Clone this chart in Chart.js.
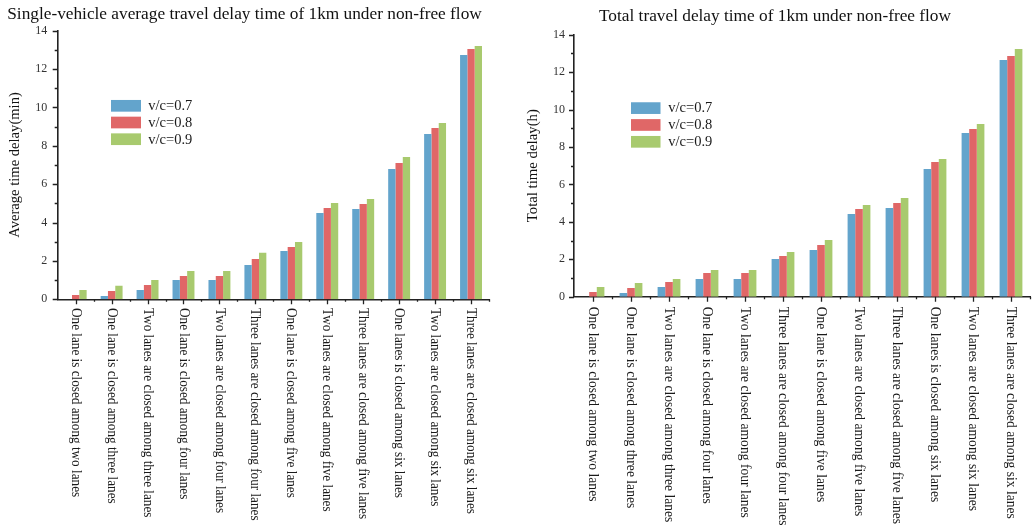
<!DOCTYPE html>
<html>
<head>
<meta charset="utf-8">
<script src="https://cdn.jsdelivr.net/npm/chart.js@4.4.1/dist/chart.umd.min.js"></script>
<style>
  html, body { margin: 0; padding: 0; background: #fff; width: 1034px; height: 529px; overflow: hidden; }
  canvas { position: absolute; top: 0; }
  #avgChart { left: 0; }
  #totalChart { left: 520px; }
</style>
</head>
<body>
<canvas id="avgChart" width="534" height="529"></canvas>
<canvas id="totalChart" width="552" height="529"></canvas>
<script>
// Closure scenarios (x categories)
const categories = [
  'One lane is closed among two lanes',
  'One lane is closed among three lanes',
  'Two lanes are closed among three lanes',
  'One lane is closed among four lanes',
  'Two lanes are closed among four lanes',
  'Three lanes are closed among four lanes',
  'One lane is closed among five lanes',
  'Two lanes are closed among five lanes',
  'Three lanes are closed among five lanes',
  'One lanes is closed among six lanes',
  'Two lanes are closed among six lanes',
  'Three lanes are closed among six lanes'
];

const seriesLabels = ['v/c=0.7', 'v/c=0.8', 'v/c=0.9'];
const seriesColors = ['#63a4cc', '#e06767', '#a8ca6e'];

// Single-vehicle average delay (min)
const avgDelay07 = [0, 0.17, 0.49, 1.0, 1.0, 1.79, 2.52, 4.5, 4.71, 6.79, 8.62, 12.73];
const avgDelay08 = [0.23, 0.43, 0.75, 1.22, 1.22, 2.1, 2.73, 4.76, 4.97, 7.1, 8.93, 13.05];
const avgDelay09 = [0.49, 0.7, 1.01, 1.48, 1.48, 2.42, 2.99, 5.02, 5.23, 7.42, 9.19, 13.2];

// Total delay (h)
const totalDelay07 = [0, 0.2, 0.52, 0.95, 0.95, 2.02, 2.49, 4.42, 4.74, 6.82, 8.75, 12.65];
const totalDelay08 = [0.25, 0.46, 0.79, 1.27, 1.27, 2.18, 2.76, 4.68, 5.0, 7.2, 8.96, 12.86];
const totalDelay09 = [0.52, 0.73, 0.95, 1.43, 1.43, 2.39, 3.03, 4.9, 5.27, 7.36, 9.23, 13.23];

// Value axis: 0..14, labelled every 2, minor marks every 1
const yMin = 0;
const yMax = 14;
const yMajorStep = 2;

const SERIF = "'Liberation Serif', 'Times New Roman', serif";

// Tick marks: major/minor on both axes, drawn outward
const axisMarks = {
  id: 'axisMarks',
  afterDraw(chart) {
    const { ctx, chartArea, scales: { x, y } } = chart;
    ctx.save();
    ctx.strokeStyle = '#222';
    ctx.lineWidth = 1.3;
    ctx.beginPath();
    for (let v = yMin; v <= yMax; v++) {
      const py = Math.round(y.getPixelForValue(v)) + 0.5;
      const len = v % yMajorStep === 0 ? 5 : 3;
      ctx.moveTo(chartArea.left, py);
      ctx.lineTo(chartArea.left - len, py);
    }
    const n = x.ticks.length;
    for (let i = 0; i < n; i++) {
      const px = Math.round(x.getPixelForTick(i)) + 0.5;
      ctx.moveTo(px, chartArea.bottom);
      ctx.lineTo(px, chartArea.bottom + 5);
      const edge = i < n - 1 ? (x.getPixelForTick(i) + x.getPixelForTick(i + 1)) / 2 : chartArea.right;
      const ex = Math.round(edge) + 0.5;
      ctx.moveTo(ex, chartArea.bottom);
      ctx.lineTo(ex, chartArea.bottom + 2.5);
    }
    ctx.stroke();
    ctx.restore();
  }
};

// Category names written downward under each tick, in a narrow serif
const downLabels = {
  id: 'downLabels',
  afterDraw(chart, args, opts) {
    const { ctx, chartArea, scales: { x } } = chart;
    ctx.save();
    ctx.font = opts.size + 'px ' + SERIF;
    ctx.fillStyle = '#1a1a1a';
    ctx.textAlign = 'left';
    ctx.textBaseline = 'middle';
    chart.data.labels.forEach((label, i) => {
      ctx.save();
      ctx.translate(x.getPixelForTick(i) + opts.dx, chartArea.bottom + opts.gap);
      ctx.rotate(Math.PI / 2);
      ctx.scale(opts.squeeze, 1);
      ctx.fillText(label, 0, 0);
      ctx.restore();
    });
    ctx.restore();
  }
};

// Legend block placed inside the plot area
const innerLegend = {
  id: 'innerLegend',
  afterDraw(chart, args, opts) {
    const { ctx, chartArea } = chart;
    ctx.save();
    ctx.font = opts.size + 'px ' + SERIF;
    ctx.textAlign = 'left';
    ctx.textBaseline = 'middle';
    chart.data.datasets.forEach((ds, i) => {
      const bx = chartArea.left + opts.dx;
      const by = chartArea.top + opts.dy + i * opts.step;
      ctx.fillStyle = ds.backgroundColor;
      ctx.fillRect(bx, by, opts.boxW, opts.boxH);
      ctx.fillStyle = '#1a1a1a';
      ctx.fillText(ds.label, bx + opts.textGap, by + opts.boxH / 2 + 0.5);
    });
    ctx.restore();
  }
};

function makeChart(canvasId, series, cfg) {
  return new Chart(document.getElementById(canvasId), {
    type: 'bar',
    data: {
      labels: categories,
      datasets: series.map((values, i) => ({
        label: seriesLabels[i],
        data: values,
        backgroundColor: seriesColors[i],
        borderWidth: 0,
        categoryPercentage: cfg.groupShare,
        barPercentage: 1
      }))
    },
    options: {
      responsive: false,
      animation: false,
      devicePixelRatio: 1,
      layout: { padding: { left: 0, right: cfg.padRight, top: 0, bottom: cfg.padBottom } },
      plugins: {
        legend: { display: false },
        tooltip: { enabled: false },
        title: {
          display: true,
          text: cfg.title,
          color: '#111',
          font: { family: SERIF, size: 17.3, weight: 'normal' },
          padding: { top: cfg.titleTop, bottom: cfg.titleBottom }
        },
        downLabels: { size: cfg.labelSize, squeeze: cfg.labelSqueeze, gap: cfg.labelGap, dx: 0 },
        innerLegend: cfg.legend
      },
      scales: {
        x: {
          type: 'category',
          offset: true,
          grid: { display: false, drawTicks: false },
          border: { display: true, color: '#222', width: 1.6 },
          ticks: { display: false }
        },
        y: {
          min: yMin,
          max: yMax,
          grid: { display: false, drawTicks: false },
          border: { display: true, color: '#222', width: 1.6 },
          ticks: {
            stepSize: 1,
            padding: cfg.tickPad,
            color: '#333',
            font: { family: SERIF, size: 12 },
            callback: (v) => (v % yMajorStep === 0 ? String(v) : '')
          },
          title: {
            display: true,
            text: cfg.yTitle,
            color: '#111',
            font: { family: SERIF, size: cfg.yTitleSize },
            padding: { top: cfg.yTitlePad, bottom: 0 }
          },
          afterFit: (scale) => { scale.width = cfg.axisWidth; }
        }
      }
    },
    plugins: [axisMarks, downLabels, innerLegend]
  });
}

makeChart('avgChart', [avgDelay07, avgDelay08, avgDelay09], {
  title: 'Single-vehicle average travel delay time of 1km under non-free flow',
  yTitle: 'Average time delay(min)',
  yTitleSize: 14.6,
  yTitlePad: 6.3,
  titleTop: 3.6,
  titleBottom: 6.3,
  padRight: 45,
  padBottom: 229.7,
  axisWidth: 57.7,
  tickPad: 10.5,
  groupShare: 0.61,
  labelSize: 14.8,
  labelSqueeze: 0.892,
  labelGap: 8.7,
  legend: { dx: 53.3, dy: 69.3, step: 16.7, boxW: 30, boxH: 11.7, textGap: 37.3, size: 14.5 }
});

makeChart('totalChart', [totalDelay07, totalDelay08, totalDelay09], {
  title: 'Total travel delay time of 1km under non-free flow',
  yTitle: 'Total time delay(h)',
  yTitleSize: 14.8,
  yTitlePad: 4.6,
  titleTop: 5.6,
  titleBottom: 8.3,
  padRight: 42,
  padBottom: 232.3,
  axisWidth: 54,
  tickPad: 9,
  groupShare: 0.6,
  labelSize: 15.2,
  labelSqueeze: 0.895,
  labelGap: 10,
  legend: { dx: 57, dy: 67.6, step: 16.85, boxW: 29.5, boxH: 11.7, textGap: 37.3, size: 14.5 }
});
</script>
</body>
</html>
